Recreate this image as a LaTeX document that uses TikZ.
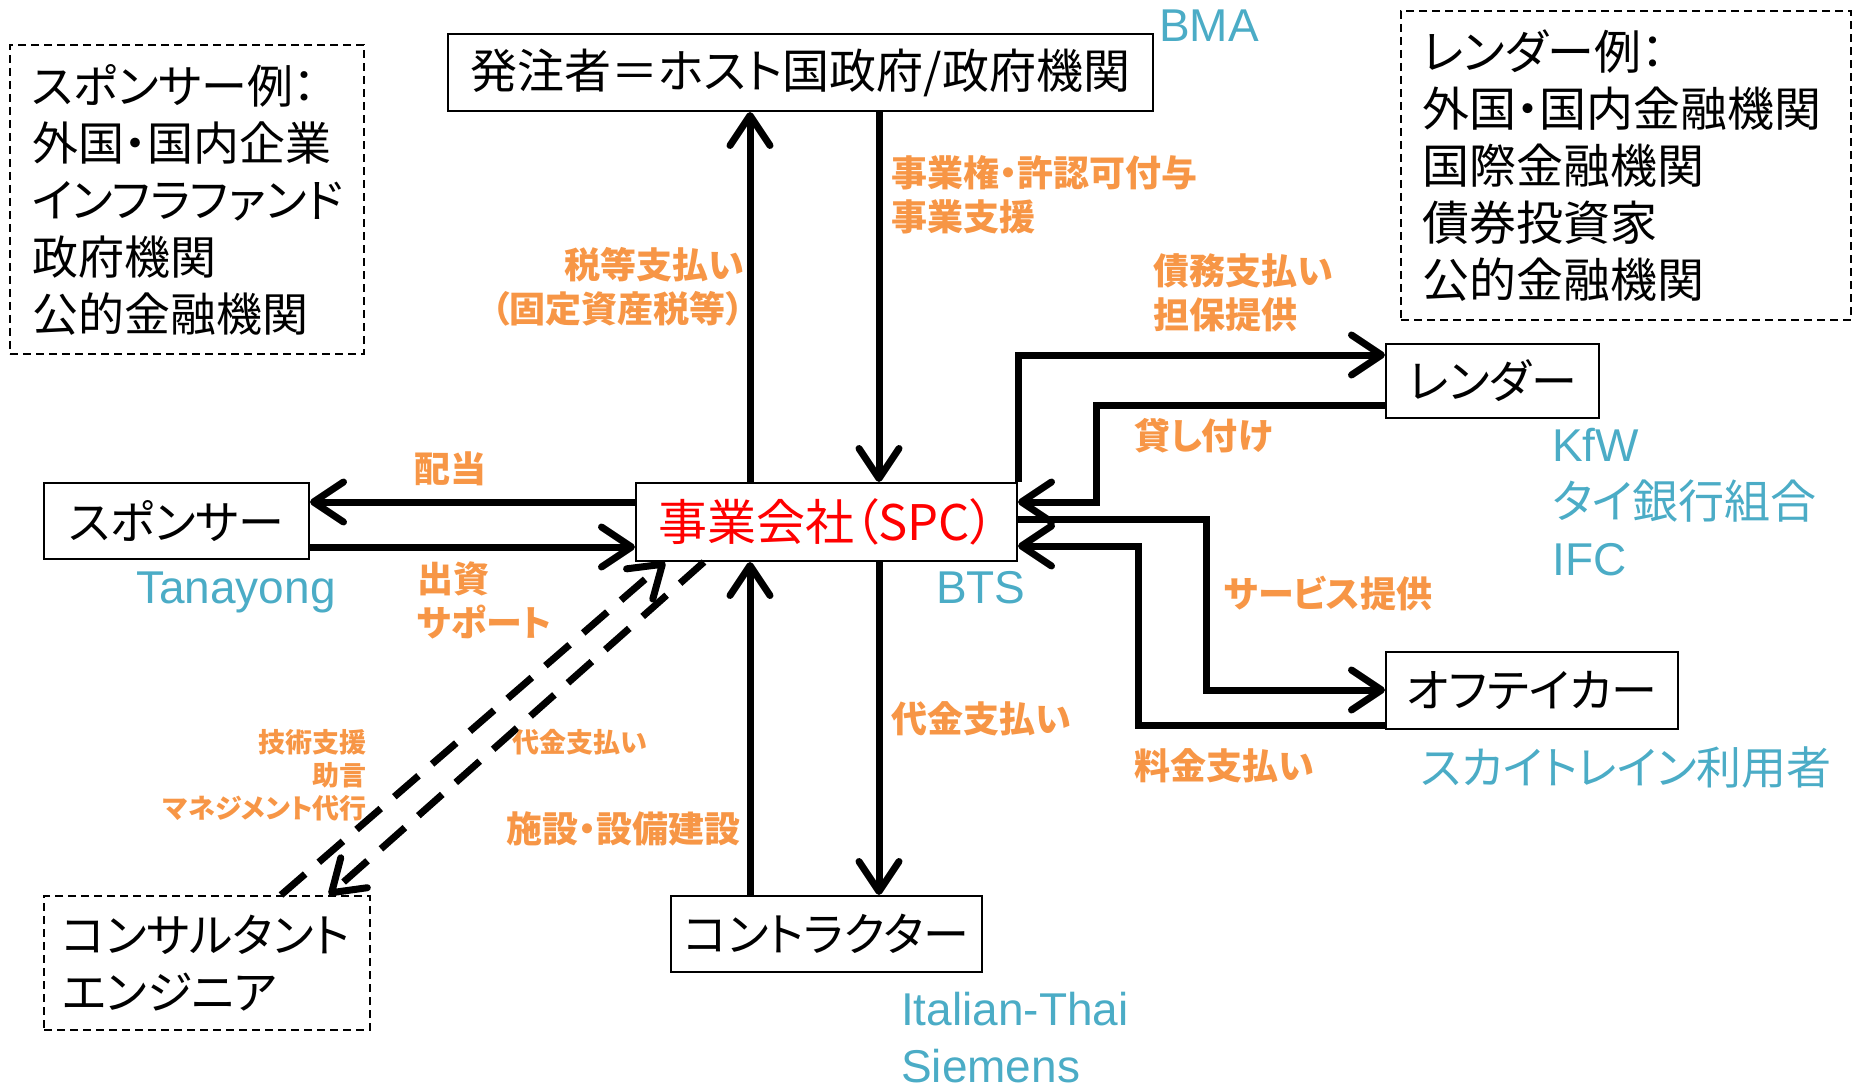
\documentclass[tikz,border=0pt]{standalone}
\usepackage{fontspec}
\setmainfont[RawFeature=+palt]{Noto Sans CJK JP}
\newfontfamily\latinf{Liberation Sans}
\usetikzlibrary{arrows.meta,calc}
\definecolor{orng}{HTML}{F79646}
\definecolor{tealc}{HTML}{4BACC6}
\tikzset{
 box/.style={draw, line width=2pt, inner sep=0pt, font=\fontsize{46}{57}\selectfont},
 exbox/.style={draw, line width=2pt, dash pattern=on 8pt off 5pt, inner ysep=0pt, align=left, font=\fontsize{46}{57}\selectfont},
 arr/.style={line width=7pt, -{Straight Barb[length=30pt,width=40pt,round]}},
 darr/.style={arr, dash pattern=on 32pt off 18pt},
 lbl/.style={text=orng, inner sep=0pt, font=\bfseries\fontsize{36}{44}\selectfont},
 slbl/.style={text=orng, inner sep=0pt, font=\bfseries\fontsize{27}{33}\selectfont},
 tl/.style={text=tealc, inner sep=0pt, align=left, font=\fontsize{46}{57}\selectfont},
}
\begin{document}
\begin{tikzpicture}[x=1pt,y=-1pt]
\useasboundingbox (0,0) rectangle (1858,1091);
% boxes
\node[box, minimum width=705pt, minimum height=77pt, font=\fontsize{47}{57}\selectfont] (host) at (800.5,72.5) {発注者＝ホスト国政府/政府機関};
\node[box, minimum width=381pt, minimum height=78pt, text=red, font=\fontsize{49}{50}\selectfont] (spc) at (826.5,522) {事業会社（SPC）};
\node[box, minimum width=265pt, minimum height=76pt] (sponsor) at (176.5,521) {スポンサー};
\node[box, minimum width=213pt, minimum height=74pt] (lender) at (1492.5,381) {レンダー};
\node[box, minimum width=292pt, minimum height=77pt] (offtaker) at (1532,690.5) {オフテイカー};
\node[box, minimum width=311pt, minimum height=76pt] (contractor) at (826.5,934) {コントラクター};
\node[exbox, minimum width=326pt, minimum height=134pt, inner xsep=18pt, text width=290pt] (consultant) at (207,963) {コンサルタント\\エンジニア};
\node[exbox, minimum width=354pt, minimum height=309pt, inner xsep=22pt, text width=310pt] (spex) at (187,199.5) {スポンサー例：\\外国・国内企業\\インフラファンド\\政府機関\\公的金融機関};
\node[exbox, minimum width=450pt, minimum height=309pt, inner xsep=21pt, text width=408pt, font=\fontsize{47}{57}\selectfont] (lenex) at (1626,165.5) {レンダー例：\\外国・国内金融機関\\国際金融機関\\債券投資家\\公的金融機関};
% helper coordinates
\coordinate (cA) at (750,0);
\coordinate (cB) at (879,0);
\coordinate (yD) at (0,502);
\coordinate (yI) at (0,547);
\coordinate (k1) at (1017,355);
\coordinate (k2) at (1096,405);
\coordinate (k3) at (1096,502);
\coordinate (m1) at (1206,519);
\coordinate (m2) at (1206,690);
\coordinate (n1) at (1138,725);
\coordinate (n2) at (1138,546);
% vertical arrows
\draw[arr] (cA |- spc.north) -- (cA |- host.south);
\draw[arr] (cB |- host.south) -- (cB |- spc.north);
\draw[arr] (cA |- contractor.north) -- (cA |- spc.south);
\draw[arr] (cB |- spc.south) -- (cB |- contractor.north);
% sponsor arrows
\draw[arr] (spc.west |- yD) -- (sponsor.east |- yD);
\draw[arr] (sponsor.east |- yI) -- (spc.west |- yI);
% lender arrows
\draw[arr] (spc.north east) -- (spc.north east |- k1) -- (lender.west |- k1);
\draw[arr] (lender.west |- k2) -- (k2) -- (k3) -- (spc.east |- k3);
% offtaker arrows
\draw[arr] (spc.east |- m1) -- (m1) -- (m2) -- (offtaker.west |- m2);
\draw[arr] (offtaker.west |- n1) -- (n1) -- (n2) -- (spc.east |- n2);
% consultant arrows
\draw[darr] ($(consultant.north)+(74,0)$) -- ($(spc.south west)+(30,0)$);
\draw[darr] ($(spc.south west)+(69,0)$) -- ($(consultant.north)+(122,0)$);
% orange labels
\node[lbl, anchor=east, align=right] (ltax) at (744,287) {税等支払い\\（固定資産税等）};
\node[lbl, anchor=west, align=left] (lcon) at (891,195) {事業権・許認可付与\\事業支援};
\node[lbl, anchor=west, align=left] (ldebt) at (1153,293) {債務支払い\\担保提供};
\node[lbl, anchor=west] (lloan) at (1134,436) {貸し付け};
\node[lbl] (ldiv) at (450,469) {配当};
\node[lbl, anchor=west, align=left] (linv) at (417,600) {出資\\サポート};
\node[lbl, anchor=west] (lserv) at (1224,593) {サービス提供};
\node[lbl, anchor=west] (lfare) at (1134,766) {料金支払い};
\node[lbl, anchor=west] (lpay) at (891,719) {代金支払い};
\node[lbl, anchor=east] (lbuild) at (741,829) {施設・設備建設};
\node[slbl, anchor=east, align=right] (ltech) at (367,775) {技術支援\\助言\\マネジメント代行};
\node[slbl, anchor=west] (lcpay) at (512,742) {代金支払い};
% teal labels
\node[tl, anchor=west] (tbma) at (1159,26) {\latinf BMA};
\node[tl, anchor=west] (tkfw) at (1552,502) {{\latinf KfW}\\タイ銀行組合\\{\latinf IFC}};
\node[tl, anchor=west] (tbts) at (936,588) {\latinf BTS};
\node[tl, anchor=west] (ttan) at (136,592) {\latinf Tanayong};
\node[tl, anchor=west, font=\fontsize{45}{57}\selectfont] (tsky) at (1421,768) {スカイトレイン利用者};
\node[tl, anchor=west] (tit) at (901,1038) {{\latinf Italian-Thai}\\{\latinf Siemens}};
\end{tikzpicture}
\end{document}
